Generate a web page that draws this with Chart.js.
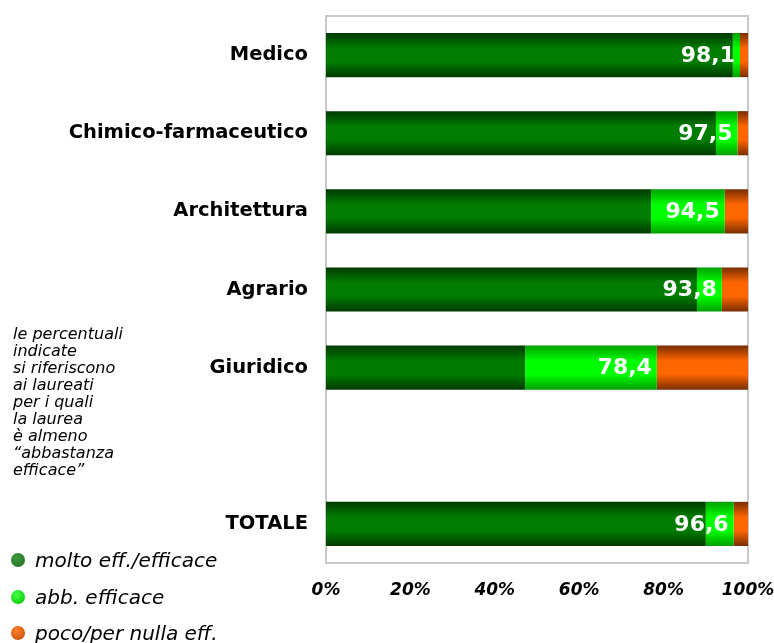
<!DOCTYPE html>
<html>
<head>
<meta charset="utf-8">
<script src="https://cdn.jsdelivr.net/npm/chart.js@4"></script>
<style>
  body { margin: 0; background: #fff; font-family: "DejaVu Sans", sans-serif; }
  #wrap { position: relative; width: 774px; height: 643px; }
  #nota { position: absolute; left: 13px; top: 325px; font-size: 16px; line-height: 17px; font-style: italic; color: #000; }
  #legenda { position: absolute; left: 11px; top: 545px; }
  .leg-item { position: absolute; left: 0; height: 30px; display: flex; align-items: center; white-space: nowrap;
    font-size: 20px; font-style: italic; color: #000; }
  .leg-dot { width: 14px; height: 14px; border-radius: 50%; margin-right: 10px; }
</style>
</head>
<body>
<div id="wrap">
  <canvas id="chart" width="774" height="643"></canvas>
  <div id="nota">le percentuali<br>indicate<br>si riferiscono<br>ai laureati<br>per i quali<br>la laurea<br>è almeno<br>“abbastanza<br>efficace”</div>
  <div id="legenda"></div>
</div>
<script>
// Efficacia della laurea per gruppo disciplinare (%)
const categorie = ['Medico', 'Chimico-farmaceutico', 'Architettura', 'Agrario', 'Giuridico', '', 'TOTALE'];
const molto = [96.4, 92.4, 77.0, 87.9, 47.2, null, 90.0];
const abbastanza = [1.7, 5.1, 17.5, 5.9, 31.2, null, 6.6];
const poco = [1.9, 2.5, 5.5, 6.2, 21.6, null, 3.4];
const xTicks = [0, 20, 40, 60, 80, 100];

const serie = [
  { label: 'molto eff./efficace', data: molto, edge: '#003a00', mid: '#007d00', dot: ['#3f9a3f', '#1f6a1f'] },
  { label: 'abb. efficace', data: abbastanza, edge: '#00a000', mid: '#00ff00', dot: ['#44ff44', '#00c000'] },
  { label: 'poco/per nulla eff.', data: poco, edge: '#7a2e00', mid: '#ff6600', dot: ['#ff8030', '#c04800'] },
];

function barGradient(s) {
  return ctx => {
    const chart = ctx.chart;
    if (!chart.chartArea || !chart.scales.y) return s.mid;
    const yc = chart.scales.y.getPixelForValue(ctx.dataIndex);
    const g = chart.ctx.createLinearGradient(0, yc - 22, 0, yc + 22);
    g.addColorStop(0, s.edge);
    g.addColorStop(0.35, s.mid);
    g.addColorStop(0.65, s.mid);
    g.addColorStop(1, s.edge);
    return g;
  };
}

function noPad(sc) {
  sc.paddingLeft = sc.paddingRight = sc.paddingTop = sc.paddingBottom = 0;
}

// frame around plot area + white value labels
const extras = {
  id: 'extras',
  beforeDatasetsDraw(chart) {
    const { ctx, chartArea: a } = chart;
    ctx.save();
    ctx.strokeStyle = '#c8c8c8';
    ctx.lineWidth = 2;
    ctx.strokeRect(a.left, a.top, a.right - a.left, a.bottom - a.top);
    ctx.restore();
  },
  afterDatasetsDraw(chart) {
    const { ctx } = chart;
    const meta = chart.getDatasetMeta(1);
    ctx.save();
    ctx.fillStyle = '#fff';
    ctx.font = 'bold 22px "DejaVu Sans"';
    ctx.textAlign = 'right';
    ctx.textBaseline = 'middle';
    meta.data.forEach((bar, i) => {
      if (molto[i] == null) return;
      const txt = (molto[i] + abbastanza[i]).toFixed(1).replace('.', ',');
      ctx.fillText(txt, bar.x - 5, bar.y + 1);
    });
    ctx.restore();
  }
};

new Chart(document.getElementById('chart'), {
  type: 'bar',
  data: {
    labels: categorie,
    datasets: serie.map(s => ({
      label: s.label,
      data: s.data,
      backgroundColor: barGradient(s),
      borderWidth: 0,
      categoryPercentage: 0.565,
      barPercentage: 1,
    })),
  },
  options: {
    indexAxis: 'y',
    responsive: false,
    animation: false,
    layout: { autoPadding: false, padding: { top: 16, right: 26, left: 0, bottom: 0 } },
    plugins: { legend: { display: false }, tooltip: { enabled: false } },
    scales: {
      x: {
        stacked: true, min: 0, max: 100,
        afterBuildTicks: sc => { sc.ticks = xTicks.map(v => ({ value: v })); },
        afterFit: sc => { sc.height = 80; noPad(sc); },
        grid: { display: false, drawTicks: false },
        border: { display: false },
        ticks: {
          padding: 17, color: '#000', maxRotation: 0,
          font: { family: 'DejaVu Sans', size: 17, weight: 'bold', style: 'italic' },
          callback: v => v + '%',
        },
      },
      y: {
        stacked: true,
        afterFit: sc => { sc.width = 326; noPad(sc); },
        grid: { display: false, drawTicks: false },
        border: { display: false },
        ticks: {
          padding: 18, color: '#000',
          font: { family: 'DejaVu Sans', size: 19.5, weight: 'bold' },
        },
      },
    },
  },
  plugins: [extras],
});

// legend built from the series
const leg = document.getElementById('legenda');
serie.forEach((s, i) => {
  const d = document.createElement('div');
  d.className = 'leg-item';
  d.style.top = (i * 36.5) + 'px';
  d.innerHTML = `<span class="leg-dot" style="background:radial-gradient(circle at 40% 35%, ${s.dot[0]}, ${s.dot[1]})"></span>${s.label}`;
  leg.appendChild(d);
});
</script>
</body>
</html>
